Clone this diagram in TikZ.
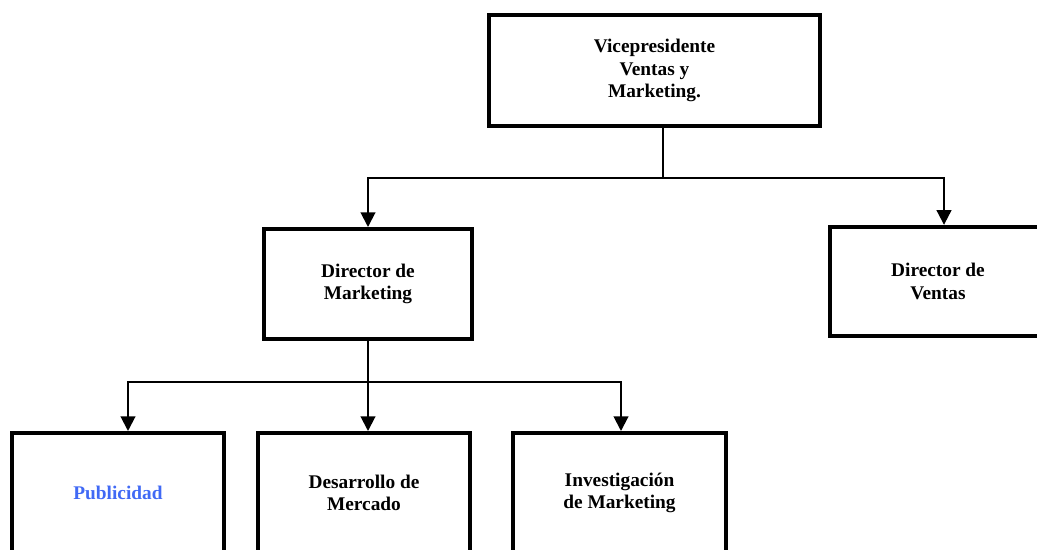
\documentclass[tikz,border=0pt]{standalone}
\usepackage{fontspec}
\setmainfont{Liberation Serif}
\usepackage{xcolor}
\usetikzlibrary{arrows.meta}
\definecolor{pubblue}{RGB}{64,105,245}
\tikzset{
  orgbox/.style={draw, line width=3pt, rectangle, align=center, inner sep=0pt,
    font=\fontsize{14.5}{17}\selectfont\bfseries},
  link/.style={line width=1.5pt},
  linkarrow/.style={line width=1.5pt, -{Triangle[width=11pt,length=11pt]}}
}
\begin{document}
\begin{tikzpicture}[x=0.75pt,y=0.75pt,yscale=-1,xscale=1]
\useasboundingbox (0,0) rectangle (1037,549);
\clip (0,0) rectangle (1037,549);

% Boxes
\node[orgbox, minimum width=248pt, minimum height=83pt] (vp) at (654.5,70.5) {Vicepresidente\\ Ventas y\\ Marketing.};
\node[orgbox, minimum width=156pt, minimum height=82.5pt] (dm) at (368,284) {Director de\\ Marketing};
\node[orgbox, minimum width=162pt, minimum height=82pt] (dv) at (938,281.5) {Director de\\ Ventas};
\node[orgbox, minimum width=159pt, minimum height=90pt, text=pubblue] (pub) at (118,493) {Publicidad};
\node[orgbox, minimum width=159pt, minimum height=90pt] (des) at (364,493) {Desarrollo de\\ Mercado};
\node[orgbox, minimum width=160pt, minimum height=90pt] (inv) at (619.5,493) {Investigación\\ de Marketing};

% Bus points
\coordinate (busvp) at (663,178);
\coordinate (busdm) at (368,382);
\coordinate (tdv) at (944,178);
\coordinate (tpub) at (128,382);
\coordinate (tinv) at (621,382);

% Connectors
\draw[link] (vp.south -| busvp) -- (busvp);
\draw[linkarrow] (busvp) -| (dm.north);
\draw[linkarrow] (busvp) -- (tdv) -- (tdv |- dv.north);
\draw[link] (dm.south) -- (busdm);
\draw[linkarrow] (busdm) -- (tpub) -- (tpub |- pub.north);
\draw[linkarrow] (busdm) -- (busdm |- des.north);
\draw[linkarrow] (busdm) -- (tinv) -- (tinv |- inv.north);

\end{tikzpicture}
\end{document}
